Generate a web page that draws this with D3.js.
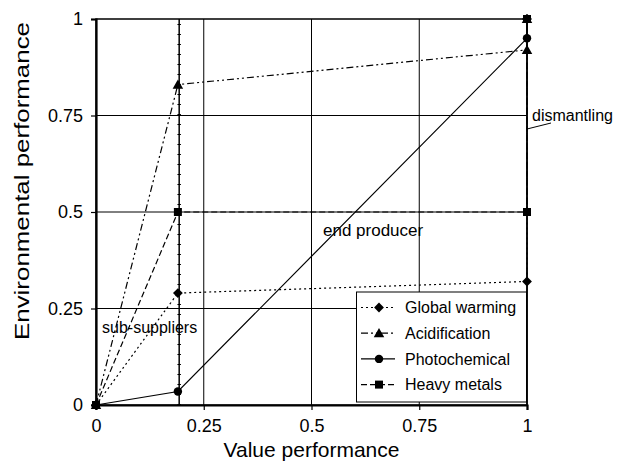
<!DOCTYPE html>
<html>
<head>
<meta charset="utf-8">
<script src="https://cdn.jsdelivr.net/npm/d3@7"></script>
<style>
  html, body { margin: 0; padding: 0; background: #fff; }
  svg { display: block; font-family: "Liberation Sans", Arial, sans-serif; }
</style>
</head>
<body>
<svg id="chart" width="621" height="463"></svg>
<script>
// Value performance of each stage of the chain (sub-suppliers, end producer, dismantling)
const stageX = [0, 0.19, 1, 1];
// Environmental performance per impact category along the chain
const globalWarming = [0, 0.29, 0.32, 1];
const acidification = [0, 0.83, 0.92, 1];
const photochemical = [0, 0.035, 0.95, 1];
const heavyMetals   = [0, 0.5, 0.5, 1];

const seriesNames = ["Global warming", "Acidification", "Photochemical", "Heavy metals"];
const xTicks = [0, 0.25, 0.5, 0.75, 1];
const yTicks = [0, 0.25, 0.5, 0.75, 1];
const tickLabels = ["0", "0.25", "0.5", "0.75", "1"];
const gridValues = [0.25, 0.5, 0.75];
const stageBoundaries = [0.193, 1];
const stageLabels = ["sub-suppliers", "end producer", "dismantling"];

const svg = d3.select("#chart");
const plotLeft = 96, plotRight = 527, plotTop = 19, plotBottom = 405;

const x = d3.scaleLinear().domain([0, 1]).range([plotLeft, plotRight]);
const y = d3.scaleLinear().domain([0, 1]).range([plotBottom, plotTop]);

// grid lines
const grid = svg.append("g").attr("stroke", "#000").attr("stroke-width", 1);
grid.selectAll("line.gx").data(gridValues).join("line")
  .attr("x1", d => x(d)).attr("x2", d => x(d))
  .attr("y1", y(0)).attr("y2", y(1));
grid.selectAll("line.gy").data(gridValues).join("line")
  .attr("x1", x(0)).attr("x2", x(1))
  .attr("y1", d => y(d)).attr("y2", d => y(d));

// plot frame
svg.append("rect")
  .attr("x", x(0)).attr("y", y(1))
  .attr("width", x(1) - x(0)).attr("height", y(0) - y(1))
  .attr("fill", "none").attr("stroke", "#000").attr("stroke-width", 1.5);

// stage boundary lines
const sep = svg.append("g");
sep.selectAll("line.s").data(stageBoundaries).join("line")
  .attr("x1", d => x(d)).attr("x2", d => x(d))
  .attr("y1", y(0)).attr("y2", y(1))
  .attr("stroke", "#000").attr("stroke-width", 1.5);
sep.selectAll("line.t").data(stageBoundaries.slice(0, 1)).join("line")
  .attr("x1", d => x(d)).attr("x2", d => x(d))
  .attr("y1", y(0)).attr("y2", y(1))
  .attr("stroke", "#000").attr("stroke-width", 3.5)
  .attr("stroke-dasharray", "1 9");

const series = [
  { name: seriesNames[0], values: globalWarming, dash: "2 3", symbol: "diamond" },
  { name: seriesNames[1], values: acidification, dash: "7 3 2 3 2 3", symbol: "triangle" },
  { name: seriesNames[2], values: photochemical, dash: null, symbol: "circle" },
  { name: seriesNames[3], values: heavyMetals, dash: "6 3", symbol: "square" }
];

function symbolPath(kind) {
  if (kind === "diamond") return d3.symbol().type(d3.symbolSquare).size(48)();
  if (kind === "triangle") return d3.symbol().type(d3.symbolTriangle).size(48)();
  if (kind === "circle") return d3.symbol().type(d3.symbolCircle).size(56)();
  return d3.symbol().type(d3.symbolSquare).size(64)();
}
function symbolTransform(kind, px, py) {
  if (kind === "diamond") return `translate(${px},${py}) rotate(45)`;
  if (kind === "triangle") return `translate(${px},${py + 1})`;
  return `translate(${px},${py})`;
}

const line = d3.line().x(d => x(d[0])).y(d => y(d[1]));

const sg = svg.append("g");
series.forEach(s => {
  const pts = stageX.map((v, i) => [v, s.values[i]]);
  sg.append("path")
    .attr("d", line(pts))
    .attr("fill", "none")
    .attr("stroke", "#000")
    .attr("stroke-width", 1.2)
    .attr("stroke-dasharray", s.dash);
  sg.selectAll(null).data(pts).join("path")
    .attr("d", symbolPath(s.symbol))
    .attr("transform", d => symbolTransform(s.symbol, x(d[0]), y(d[1])))
    .attr("fill", "#000");
});

// axes
const xAxis = svg.append("g")
  .attr("transform", `translate(0,${plotBottom})`)
  .call(d3.axisBottom(x).tickValues(xTicks)
    .tickFormat((d, i) => tickLabels[i]).tickSize(5).tickPadding(9));
const yAxis = svg.append("g")
  .attr("transform", `translate(${plotLeft},0)`)
  .call(d3.axisLeft(y).tickValues(yTicks)
    .tickFormat((d, i) => tickLabels[i]).tickSize(5).tickPadding(8));
[xAxis, yAxis].forEach(a => {
  a.select(".domain").attr("stroke", "#000").attr("stroke-width", 2.2);
  a.selectAll(".tick line").attr("stroke", "#000").attr("stroke-width", 1.2);
  a.selectAll(".tick text")
    .attr("font-family", "'Liberation Sans', Arial, sans-serif")
    .attr("font-size", 18).attr("fill", "#000");
});

// axis titles
svg.append("text")
  .attr("x", (plotLeft + plotRight) / 2).attr("y", 457)
  .attr("text-anchor", "middle").attr("font-size", 21)
  .text("Value performance");
svg.append("text")
  .attr("transform", "translate(29,181) rotate(-90)")
  .attr("text-anchor", "middle").attr("font-size", 21)
  .attr("textLength", 318).attr("lengthAdjust", "spacingAndGlyphs")
  .text("Environmental performance");

// stage labels
svg.append("text").attr("x", 102).attr("y", 333).attr("font-size", 16).text(stageLabels[0]);
svg.append("text").attr("x", 323).attr("y", 236).attr("font-size", 17).text(stageLabels[1]);
svg.append("text").attr("x", 532).attr("y", 121).attr("font-size", 16).text(stageLabels[2]);
svg.append("line")
  .attr("x1", x(1)).attr("y1", 129).attr("x2", 551).attr("y2", 123)
  .attr("stroke", "#000").attr("stroke-width", 1);

// legend
const lg = svg.append("g");
lg.append("rect")
  .attr("x", 356.5).attr("y", 292).attr("width", 170).attr("height", 110)
  .attr("fill", "#fff").attr("stroke", "#000").attr("stroke-width", 1);
series.forEach((s, i) => {
  const ry = 307.5 + i * 25.7;
  lg.append("line")
    .attr("x1", 361).attr("x2", 395).attr("y1", ry).attr("y2", ry)
    .attr("stroke", "#000").attr("stroke-width", 1.2)
    .attr("stroke-dasharray", s.dash);
  lg.append("path")
    .attr("d", symbolPath(s.symbol))
    .attr("transform", symbolTransform(s.symbol, 379, ry))
    .attr("fill", "#000");
  lg.append("text")
    .attr("x", 405).attr("y", ry).attr("dy", "0.35em")
    .attr("font-size", 16).text(s.name);
});
</script>
</body>
</html>
